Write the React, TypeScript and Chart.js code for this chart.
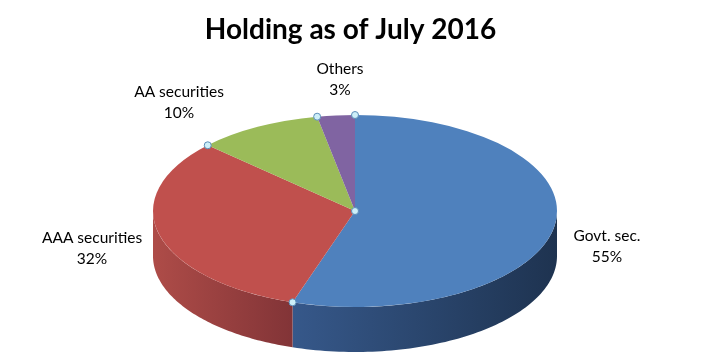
import { useEffect, useRef } from 'react';
import { Chart, registerables } from 'chart.js';

Chart.register(...registerables);

// ---- data ----
const categories = ['Govt. sec.', 'AAA securities', 'AA securities', 'Others'];
const values = [55, 32, 10, 3];
const percentLabels = ['55%', '32%', '10%', '3%'];
const chartTitle = 'Holding as of July 2016';

// ---- styles / layout ----
const topColors = ['#4F81BD', '#C0504D', '#9BBB59', '#8064A2'];
const sideColors: [string, string][] = [
  ['#36588A', '#1E3350'],
  ['#AE4C48', '#823437'],
  ['#7D9A45', '#5E7533'],
  ['#665082', '#4C3C62'],
];
const CX = 355;
const CY = 211;
const RX = 202;
const RY = 96;
const DEPTH = 45;
const labelCenters: [number, number][] = [
  [607, 236],
  [92, 238],
  [179, 92],
  [340, 69],
];
const LINE_GAP = 21;

function ellipsePt(t: number): [number, number] {
  return [CX + RX * Math.cos(t), CY + RY * Math.sin(t)];
}

function drawSide(ctx: CanvasRenderingContext2D, a: number, b: number, cols: [string, string]) {
  const n = 80;
  ctx.beginPath();
  for (let j = 0; j <= n; j++) {
    const [px, py] = ellipsePt(a + ((b - a) * j) / n);
    if (j === 0) ctx.moveTo(px, py);
    else ctx.lineTo(px, py);
  }
  for (let j = n; j >= 0; j--) {
    const [px, py] = ellipsePt(a + ((b - a) * j) / n);
    ctx.lineTo(px, py + DEPTH);
  }
  ctx.closePath();
  const xs = [];
  for (let j = 0; j <= n; j++) xs.push(ellipsePt(a + ((b - a) * j) / n)[0]);
  const x0 = Math.min(...xs);
  const x1 = Math.max(...xs);
  const g = ctx.createLinearGradient(x0, 0, Math.max(x1, x0 + 1), 0);
  g.addColorStop(0, cols[0]);
  g.addColorStop(1, cols[1]);
  ctx.fillStyle = g;
  ctx.fill();
}

const pie3d = {
  id: 'pie3d',
  beforeDatasetsDraw(chart: any) {
    const ctx: CanvasRenderingContext2D = chart.ctx;
    const meta = chart.getDatasetMeta(0);
    const arcs = meta.data;
    const TWO = Math.PI * 2;
    arcs.forEach((arc: any, i: number) => {
      const { startAngle, endAngle } = arc.getProps(['startAngle', 'endAngle'], true);
      for (const k of [-1, 0, 1]) {
        const a = Math.max(startAngle + k * TWO, 0);
        const b = Math.min(endAngle + k * TWO, Math.PI);
        if (b > a) drawSide(ctx, a, b, sideColors[i]);
      }
    });
    const { x, y, outerRadius } = arcs[0].getProps(['x', 'y', 'outerRadius'], true);
    ctx.save();
    ctx.translate(CX, CY);
    ctx.scale(RX / outerRadius, RY / outerRadius);
    ctx.translate(-x, -y);
  },
  afterDatasetsDraw(chart: any) {
    const ctx: CanvasRenderingContext2D = chart.ctx;
    ctx.restore();
    const meta = chart.getDatasetMeta(0);
    const arcs = meta.data;
    // selection-style markers
    const pts: [number, number][] = [[CX, CY]];
    arcs.forEach((arc: any) => {
      const { startAngle } = arc.getProps(['startAngle'], true);
      pts.push(ellipsePt(startAngle));
    });
    ctx.save();
    pts.forEach(([px, py]) => {
      ctx.beginPath();
      ctx.arc(px, py, 3.5, 0, Math.PI * 2);
      ctx.fillStyle = '#CDEFF8';
      ctx.fill();
      ctx.lineWidth = 1;
      ctx.strokeStyle = '#5B8DB8';
      ctx.stroke();
    });
    // labels
    ctx.fillStyle = '#000';
    ctx.font = '15.5px Lato, "Open Sans", sans-serif';
    ctx.textAlign = 'center';
    ctx.textBaseline = 'middle';
    categories.forEach((c, i) => {
      const [lx, ly] = labelCenters[i];
      ctx.fillText(c, lx, ly);
      ctx.fillText(percentLabels[i], lx, ly + LINE_GAP);
    });
    ctx.restore();
  },
};

export default function App() {
  const ref = useRef<HTMLCanvasElement | null>(null);
  useEffect(() => {
    document.body.style.margin = '0';
    const canvas = ref.current;
    if (!canvas) return;
    const chart = new Chart(canvas, {
      type: 'pie',
      data: {
        labels: categories,
        datasets: [
          {
            data: values,
            backgroundColor: topColors,
            borderWidth: 0,
            clip: false,
          } as any,
        ],
      },
      options: {
        responsive: false,
        animation: false,
        devicePixelRatio: 1,
        layout: { padding: 10 },
        plugins: {
          legend: { display: false },
          tooltip: { enabled: false },
          title: {
            display: true,
            text: chartTitle,
            color: '#000',
            font: { family: 'Lato, "Open Sans", sans-serif', size: 28, weight: 'bold' },
            padding: { top: 3, bottom: 10 },
          },
        },
      },
      plugins: [pie3d],
    });
    return () => chart.destroy();
  }, []);
  return (
    <div style={{ width: 701, height: 363, background: '#fff' }}>
      <canvas ref={ref} width={701} height={363} />
    </div>
  );
}
